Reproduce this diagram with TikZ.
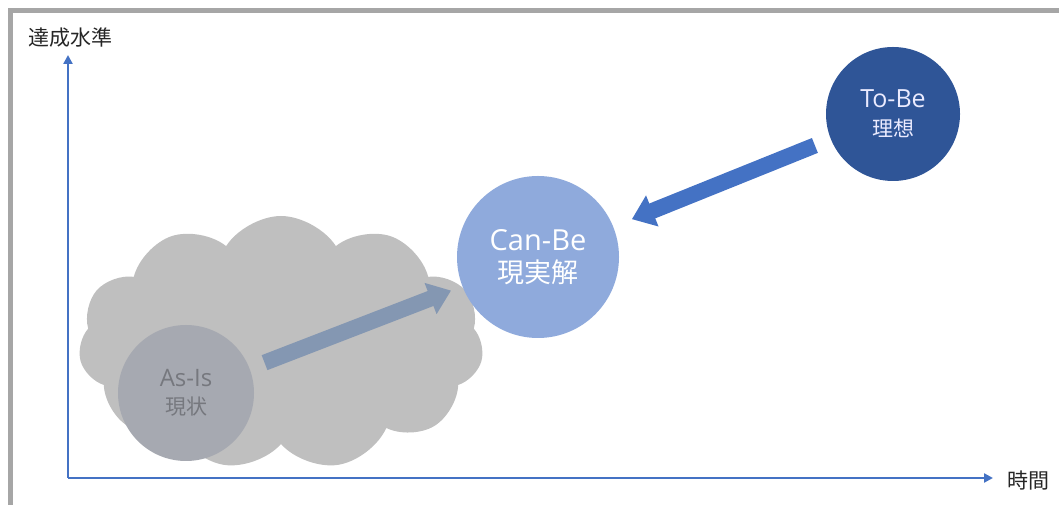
\documentclass[tikz,border=0pt]{standalone}
\usepackage{fontspec}
\setmainfont{Open Sans}
\newfontfamily\cjk{Noto Sans CJK JP}
\usepackage{xcolor}
\usetikzlibrary{positioning, shapes.symbols, arrows.meta}

\definecolor{axisblue}{RGB}{68,114,196}
\definecolor{framegray}{RGB}{166,166,166}
\definecolor{cloudgray}{RGB}{191,191,191}
\definecolor{asisgray}{RGB}{166,169,177}
\definecolor{asistext}{RGB}{118,120,126}
\definecolor{canbeblue}{RGB}{143,170,220}
\definecolor{tobeblue}{RGB}{47,85,151}
\definecolor{slateblue}{RGB}{132,151,178}

\begin{document}
\begin{tikzpicture}[
        x=1pt, y=1pt,
        axis/.style={draw=axisblue, line width=2.5pt,
                     -{Triangle[width=9pt, length=9pt]}},
        label/.style={font=\cjk\fontsize{21}{24}\selectfont, text=black!85},
        state/.style={circle, inner sep=0pt, align=center},
        blockarrow/.style={line width=16pt,
                           -{Triangle[width=32pt, length=22pt]}}
    ]
    \useasboundingbox (0,0) rectangle (1059,505);

    % --- Frame ---
    \draw[framegray, line width=5pt] (10.5,0) -- (10.5,494.5) -- (1059,494.5);

    % --- Axes ---
    \coordinate (O) at (68,27);
    \coordinate (ytop) at (68,450);
    \coordinate (xend) at (993,27);
    \draw[axis] (O) -- (ytop);
    \draw[axis] (O) -- (xend);
    \node[label] (ylab) at (70,467) {達成水準};
    \node[label] (xlab) at (1028,24) {時間};

    % --- Cloud ---
    \node[cloud, cloud puffs=11, cloud puff arc=115, aspect=1.6,
          fill=cloudgray, inner sep=0pt,
          minimum width=405pt, minimum height=254pt] (cloud) at (281,162) {};

    % --- States ---
    \node[state, fill=asisgray, minimum size=136pt, text=asistext,
          font=\fontsize{24}{28}\selectfont]
        (asis) at (186,112) {As-Is\\{\cjk\fontsize{21}{28}\selectfont 現状}};
    \node[state, fill=canbeblue, minimum size=162pt, text=white,
          font=\fontsize{29}{32}\selectfont]
        (canbe) at (538,248) {Can-Be\\{\cjk\fontsize{27}{32}\selectfont 現実解}};
    \node[state, fill=tobeblue, minimum size=134pt, text=white!92!blue,
          font=\fontsize{25}{29}\selectfont]
        (tobe) at (893,391) {To-Be\\{\cjk\fontsize{21}{29}\selectfont 理想}};

    % --- Arrows ---
    \draw[blockarrow, draw=slateblue, shorten <=16pt, shorten >=12pt] (asis) -- (canbe);
    \draw[blockarrow, draw=axisblue, shorten <=17pt, shorten >=20pt] (tobe) -- (canbe);

\end{tikzpicture}
\end{document}
